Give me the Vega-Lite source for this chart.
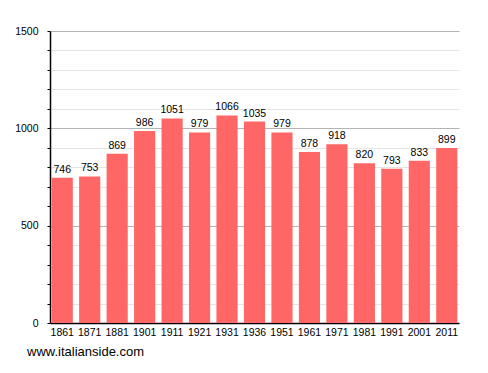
{
  "$schema": "https://vega.github.io/schema/vega-lite/v6.json",
  "width": 409,
  "height": 292,
  "autosize": {"type": "none"},
  "padding": {"left": 50, "top": 31, "right": 29, "bottom": 50},
  "background": "white",
  "config": {
    "view": {"stroke": null},
    "font": "Liberation Sans"
  },
  "title": {
    "text": "www.italianside.com",
    "orient": "bottom",
    "anchor": "start",
    "frame": "group",
    "offset": 8,
    "dx": -23,
    "fontSize": 13,
    "fontWeight": "normal",
    "font": "Liberation Sans",
    "color": "#000000"
  },
  "data": {
    "values": [
      {"year": "1861", "pop": 746},
      {"year": "1871", "pop": 753},
      {"year": "1881", "pop": 869},
      {"year": "1901", "pop": 986},
      {"year": "1911", "pop": 1051},
      {"year": "1921", "pop": 979},
      {"year": "1931", "pop": 1066},
      {"year": "1936", "pop": 1035},
      {"year": "1951", "pop": 979},
      {"year": "1961", "pop": 878},
      {"year": "1971", "pop": 918},
      {"year": "1981", "pop": 820},
      {"year": "1991", "pop": 793},
      {"year": "2001", "pop": 833},
      {"year": "2011", "pop": 899}
    ]
  },
  "encoding": {
    "x": {
      "field": "year",
      "type": "ordinal",
      "sort": null,
      "scale": {"paddingInner": 0.23, "paddingOuter": 0.06},
      "axis": {
        "title": null,
        "labelAngle": 0,
        "ticks": false,
        "domainColor": "#000000",
        "domainWidth": 1.5,
        "labelFontSize": 10.5,
        "labelColor": "#000000",
        "labelPadding": 4,
        "labelFont": "Liberation Sans"
      }
    },
    "y": {
      "field": "pop",
      "type": "quantitative",
      "scale": {"domain": [0, 1500], "nice": false},
      "axis": {
        "title": null,
        "values": [0, 100, 200, 300, 400, 500, 600, 700, 800, 900, 1000, 1100, 1200, 1300, 1400, 1500],
        "labelExpr": "datum.value % 500 === 0 ? datum.value : ''",
        "grid": true,
        "gridColor": {"condition": {"test": "datum.value % 500 === 0", "value": "#b4b4b4"}, "value": "#e4e4e4"},
        "gridWidth": 1,
        "tickSize": 3,
        "tickColor": "#000000",
        "domainColor": "#000000",
        "domainWidth": 1.5,
        "labelFontSize": 10.5,
        "labelColor": "#000000",
        "labelPadding": 9,
        "labelFont": "Liberation Sans"
      }
    }
  },
  "layer": [
    {"mark": {"type": "bar", "color": "#ff6666"}},
    {
      "mark": {"type": "text", "baseline": "bottom", "dy": -3, "fontSize": 10.5, "color": "#000000", "font": "Liberation Sans"},
      "encoding": {"text": {"field": "pop", "type": "quantitative"}}
    }
  ]
}
